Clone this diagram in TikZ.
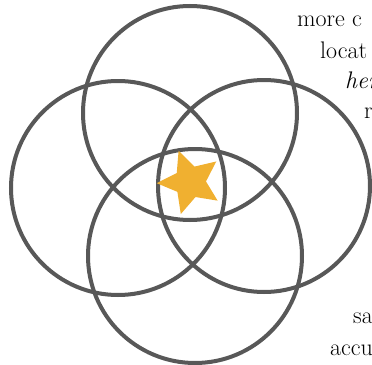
\documentclass[tikz,border=0pt]{standalone}
\usepackage{tikz}
\usetikzlibrary{shapes.geometric}
\definecolor{ringgray}{RGB}{88,88,88}
\definecolor{stargold}{RGB}{240,176,48}
\tikzset{
  ring/.style={
    draw=ringgray,
    line width=4pt
  },
  spot mark/.style={
    star,
    star points=5,
    star point ratio=0.48,
    fill=stargold,
    inner sep=0pt,
    minimum size=32pt
  },
  blurb/.style={
    anchor=base west,
    inner sep=0pt,
    text=black,
    font=\fontsize{24}{28}\selectfont
  }
}

\begin{document}
\begin{tikzpicture}[x=1pt, y=-1pt]

    % frame of the picture
    \useasboundingbox (0,0) rectangle (372,364);
    \clip (0,0) rectangle (372,364);

    % the four circles
    \coordinate (top) at (190,113);
    \coordinate (bottom) at (195,256);
    \coordinate (left) at (118,188);
    \coordinate (right) at (264,186);
    \draw[ring] (top) circle (107);
    \draw[ring] (left) circle (107);
    \draw[ring] (right) circle (106);
    \draw[ring] (bottom) circle (107);

    % the star in the middle
    \node[spot mark, rotate=-16] (spot) at (190,182) {};

    % text running off the right edge
    \node[blurb] (l1) at (297,26) {more c};
    \node[blurb] (l2) at (320,58) {locat};
    \node[blurb] (l3) at (345,88) {\itshape her};
    \node[blurb] (l4) at (364,118) {r};
    \node[blurb] (l5) at (353,323) {sa};
    \node[blurb] (l6) at (330,355) {accu};

\end{tikzpicture}
\end{document}
